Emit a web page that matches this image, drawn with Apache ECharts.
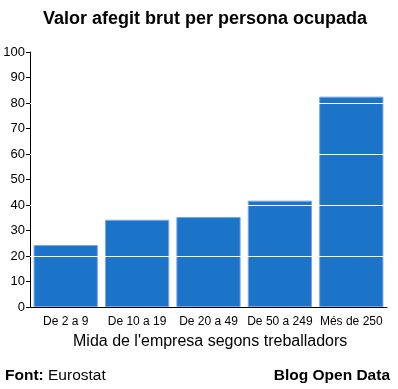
<!DOCTYPE html>
<html><head><meta charset="utf-8">
<script src="https://cdn.jsdelivr.net/npm/echarts@6/dist/echarts.min.js"></script>
<style>html,body{margin:0;padding:0;background:#fff}#c{width:398px;height:389px}</style>
</head><body><div id="c"></div>
<script>
var categories = ['De 2 a 9', 'De 10 a 19', 'De 20 a 49', 'De 50 a 249', 'Més de 250'];
var values = [24.3, 34.2, 35.3, 41.7, 82.5];
var whiteLines = [20, 40, 60, 80];
var chart = echarts.init(document.getElementById('c'), null, {renderer: 'canvas'});
var F = 'Liberation Sans, Arial, sans-serif';
chart.setOption({
  animation: false,
  backgroundColor: '#fff',
  title: [
    {text: 'Valor afegit brut per persona ocupada', left: 38, top: 5,
     textStyle: {fontFamily: F, fontSize: 18, fontWeight: 'bold', color: '#000'}},
    {text: "Mida de l'empresa segons treballadors", left: 68, top: 329,
     textStyle: {fontFamily: F, fontSize: 16, fontWeight: 'normal', color: '#000'}},
    {text: '{b|Font:} Eurostat', left: 0, top: 363,
     textStyle: {fontFamily: F, fontSize: 15.5, fontWeight: 'normal', color: '#000',
       rich: {b: {fontFamily: F, fontSize: 15.5, fontWeight: 'bold', color: '#000'}}}},
    {text: 'Blog Open Data', right: 3, top: 363,
     textStyle: {fontFamily: F, fontSize: 15.5, fontWeight: 'bold', color: '#000'}}
  ],
  grid: {left: 30, right: 11, top: 52, bottom: 82, containLabel: false},
  xAxis: {
    type: 'category', data: categories,
    axisLine: {lineStyle: {color: '#000', width: 1}},
    axisTick: {show: false},
    axisLabel: {fontFamily: F, fontSize: 12, color: '#000', margin: 9, interval: 0}
  },
  yAxis: {
    type: 'value', min: 0, max: 100, interval: 10,
    axisLine: {show: true, lineStyle: {color: '#000', width: 1}},
    axisTick: {show: true, length: 4, lineStyle: {color: '#000'}},
    splitLine: {show: false},
    axisLabel: {fontFamily: F, fontSize: 13, color: '#000', margin: 5}
  },
  series: [{
    type: 'bar', data: values, barCategoryGap: '10%',
    itemStyle: {color: '#1c74c8', borderColor: '#78a4f2', borderWidth: 1},
    markLine: {
      silent: true, symbol: 'none', animation: false,
      label: {show: false},
      lineStyle: {color: '#fff', width: 1, type: 'solid'},
      emphasis: {disabled: true},
      data: whiteLines.map(function (v) { return {yAxis: v}; })
    }
  }]
});
</script></body></html>
